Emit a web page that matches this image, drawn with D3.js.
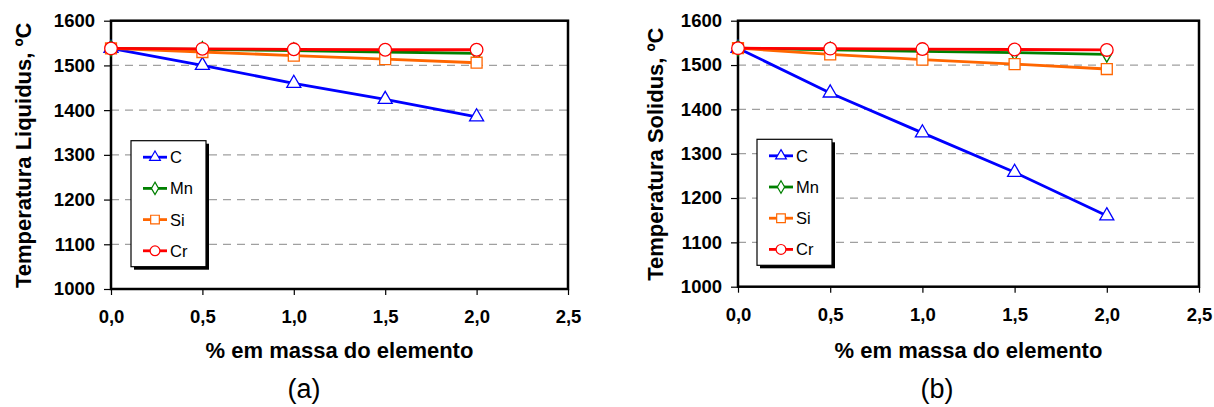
<!DOCTYPE html>
<html>
<head>
<meta charset="utf-8">
<script src="https://cdn.jsdelivr.net/npm/d3@7"></script>
<style>
  body { margin: 0; background: #fff; }
  svg { font-family: "Liberation Sans", Arial, sans-serif; }
</style>
</head>
<body>
<svg id="chart" width="1214" height="407"></svg>
<script>
// % em massa do elemento
const massa = [0, 0.5, 1.0, 1.5, 2.0];
const elementos = ["C", "Mn", "Si", "Cr"];

// (a) temperatura liquidus
const liqC  = [1538, 1500, 1460, 1424, 1385];
const liqMn = [1538, 1536, 1533, 1530, 1527];
const liqSi = [1538, 1530, 1522, 1514, 1506];
const liqCr = [1538, 1537, 1536, 1535, 1535];

// (b) temperatura solidus
const solC  = [1538, 1437, 1347, 1258, 1160];
const solMn = [1538, 1534, 1531, 1528, 1524];
const solSi = [1538, 1524, 1512, 1502, 1491];
const solCr = [1538, 1537, 1536, 1535, 1534];

const xTicks = [0, 0.5, 1.0, 1.5, 2.0, 2.5];
const yTicks = [1000, 1100, 1200, 1300, 1400, 1500, 1600];

const cores = { C: "#0000ff", Mn: "#008000", Si: "#ff6600", Cr: "#ff0000" };
const simbolos = { C: d3.symbolTriangle, Mn: d3.symbolDiamond, Si: d3.symbolSquare, Cr: d3.symbolCircle };
const tamanhos = { C: 85, Mn: 70, Si: 120, Cr: 125 };

const svg = d3.select("#chart");
const virgula = d => d3.format(".1f")(d).replace(".", ",");

function desenha(panel) {
  const x = d3.scaleLinear().domain([0, 2.5]).range([panel.left, panel.right]);
  const y = d3.scaleLinear().domain([1000, 1600]).range([panel.bottom, panel.top]);
  const g = svg.append("g");

  // gridlines (dashed) except at the limits
  g.selectAll("line.grid")
    .data(yTicks.filter(t => t > 1000 && t < 1600))
    .enter().append("line")
    .attr("x1", panel.left).attr("x2", panel.right)
    .attr("y1", d => y(d)).attr("y2", d => y(d))
    .attr("stroke", "#a0a0a0").attr("stroke-width", 1.2)
    .attr("stroke-dasharray", "8,6");

  // y axis
  const ya = g.append("g").attr("transform", `translate(${panel.left},0)`)
    .call(d3.axisLeft(y).tickValues(yTicks).tickSize(7).tickPadding(9).tickFormat(d3.format("d")));
  ya.select(".domain").remove();
  ya.selectAll("line").attr("stroke", "#000").attr("stroke-width", 1.2);
  ya.selectAll("text").attr("font-size", 18.5).attr("font-weight", "bold").attr("fill", "#000")
    .attr("font-family", "Liberation Sans, Arial, sans-serif");

  // x axis
  const xa = g.append("g").attr("transform", `translate(0,${panel.bottom})`)
    .call(d3.axisBottom(x).tickValues(xTicks).tickSize(6).tickPadding(15).tickFormat(virgula));
  xa.select(".domain").remove();
  xa.selectAll("line").attr("stroke", "#000").attr("stroke-width", 1.2);
  xa.selectAll("text").attr("font-size", 18.5).attr("font-weight", "bold").attr("fill", "#000")
    .attr("font-family", "Liberation Sans, Arial, sans-serif");

  // frame
  g.append("rect")
    .attr("x", panel.left).attr("y", panel.top)
    .attr("width", panel.right - panel.left).attr("height", panel.bottom - panel.top)
    .attr("fill", "none").attr("stroke", "#000").attr("stroke-width", 2.5);

  // series
  const linha = d3.line().x((d, i) => x(massa[i])).y(d => y(d));
  elementos.forEach(el => {
    const vals = panel.series[el];
    g.append("path").datum(vals)
      .attr("d", linha).attr("fill", "none")
      .attr("stroke", cores[el]).attr("stroke-width", 2.8);
    g.selectAll(null).data(vals).enter().append("path")
      .attr("transform", (d, i) => `translate(${x(massa[i])},${y(d)})`)
      .attr("d", d3.symbol().type(simbolos[el]).size(tamanhos[el]))
      .attr("fill", "#fff").attr("stroke", cores[el]).attr("stroke-width", 1.3);
  });

  // legend
  const lw = 75, lh = 126;
  const lg = g.append("g").attr("transform", `translate(${panel.legX},${panel.legY})`);
  lg.append("rect").attr("x", 3).attr("y", 3).attr("width", lw).attr("height", lh).attr("fill", "#000");
  lg.append("rect").attr("x", 0).attr("y", 0).attr("width", lw).attr("height", lh)
    .attr("fill", "#fff").attr("stroke", "#000").attr("stroke-width", 1.2);
  elementos.forEach((el, i) => {
    const yy = 16.5 + i * 31.2;
    lg.append("line").attr("x1", 12).attr("x2", 36).attr("y1", yy).attr("y2", yy)
      .attr("stroke", cores[el]).attr("stroke-width", 2.8);
    lg.append("path").attr("transform", `translate(24,${yy})`)
      .attr("d", d3.symbol().type(simbolos[el]).size(el === "C" ? 50 : (el === "Mn" ? 45 : 75)))
      .attr("fill", "#fff").attr("stroke", cores[el]).attr("stroke-width", 1.2);
    lg.append("text").attr("x", 39).attr("y", yy + 6).text(el)
      .attr("font-size", 16.5).attr("fill", "#000");
  });

  // axis titles
  g.append("text")
    .attr("transform", `translate(${panel.yTitleX},${(panel.top + panel.bottom) / 2 + 0.5}) rotate(-90)`)
    .attr("text-anchor", "middle").attr("font-size", 22).attr("font-weight", "bold")
    .text(panel.yTitle);
  g.append("text")
    .attr("x", (panel.left + panel.right) / 2).attr("y", 358)
    .attr("text-anchor", "middle").attr("font-size", 22).attr("font-weight", "bold")
    .text("% em massa do elemento");
  g.append("text")
    .attr("x", panel.capX).attr("y", 398)
    .attr("text-anchor", "middle").attr("font-size", 27)
    .text(panel.caption);
}

desenha({
  left: 111, right: 568, top: 20.7, bottom: 289,
  legX: 131, legY: 140.7, yTitleX: 31, capX: 304,
  yTitle: "Temperatura Liquidus, ºC", caption: "(a)",
  series: { C: liqC, Mn: liqMn, Si: liqSi, Cr: liqCr }
});

desenha({
  left: 738, right: 1199, top: 20.7, bottom: 286.7,
  legX: 757, legY: 139.3, yTitleX: 663, capX: 937,
  yTitle: "Temperatura Solidus, ºC", caption: "(b)",
  series: { C: solC, Mn: solMn, Si: solSi, Cr: solCr }
});
</script>
</body>
</html>
